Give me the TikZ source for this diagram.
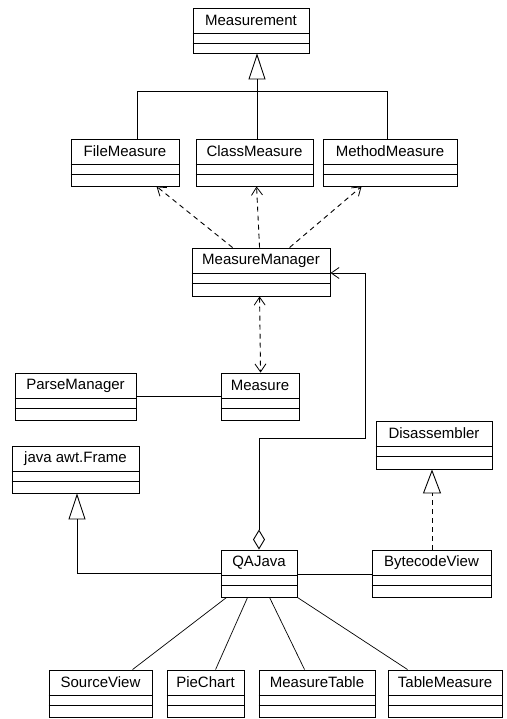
\documentclass[tikz,border=0pt]{standalone}
\usepackage{fontspec}
\setmainfont{Liberation Sans}
\usetikzlibrary{arrows.meta,calc,fit}
\begin{document}
\begin{tikzpicture}[x=1pt,y=-1pt,
  line width=0.9pt,
  classbox/.style={draw, inner sep=0pt, fill=white},
  classname/.style={font=\fontsize{15}{17}\selectfont, inner sep=0pt},
  gen/.style={-{Triangle[open,length=26pt,width=17pt,line width=0.9pt]}},
  real/.style={dashed, dash pattern=on 5pt off 4pt, -{Triangle[open,length=24pt,width=18pt,line width=0.9pt]}},
  dep/.style={dashed, dash pattern=on 5pt off 4pt, -{Straight Barb[length=8pt,width=11pt,line width=0.8pt]}},
  bidep/.style={dashed, dash pattern=on 5pt off 4pt, {Straight Barb[length=8pt,width=11pt,line width=0.8pt]}-{Straight Barb[length=8pt,width=11pt,line width=0.8pt]}},
  assoc/.style={line width=0.7pt},
  aggr/.style={{Diamond[open,length=20pt,width=12pt,line width=0.9pt]}-{Straight Barb[length=8pt,width=11pt,line width=0.8pt]}}
]
\newcommand\umlclass[6]{%
  \path (#3,#4) coordinate (#1-nw) (#5,#6) coordinate (#1-se);
  \node[classbox, fit=(#1-nw)(#1-se)] (#1) {};
  \node[classname] (#1-t) at ($(#1.north)+(0,13)$) {#2};
  \draw ($(#1.north west)+(0,25.5)$) -- ($(#1.north east)+(0,25.5)$);
  \draw ($(#1.north west)+(0,35.5)$) -- ($(#1.north east)+(0,35.5)$);
}
\useasboundingbox (0,0) rectangle (506,719);
\fill[white] (0,0) rectangle (506,719);

\umlclass{measurement}{Measurement}{193}{8}{309}{53}
\umlclass{filem}{FileMeasure}{71}{139}{179}{186}
\umlclass{classm}{ClassMeasure}{196}{139}{313}{186}
\umlclass{methodm}{MethodMeasure}{323}{139}{457}{186}
\umlclass{mm}{MeasureManager}{192}{248}{330}{296}
\umlclass{parse}{ParseManager}{15}{373}{136}{420}
\umlclass{measure}{Measure}{221}{373}{299}{420}
\umlclass{disasm}{Disassembler}{376}{421}{492}{469}
\umlclass{frame}{java awt.Frame}{12}{446}{139}{493}
\umlclass{qajava}{QAJava}{221}{550}{297}{597}
\umlclass{bytecode}{BytecodeView}{372}{550}{491}{597}
\umlclass{source}{SourceView}{49}{670}{152}{717}
\umlclass{pie}{PieChart}{167}{670}{244}{717}
\umlclass{mtable}{MeasureTable}{259}{670}{375}{717}
\umlclass{tmeasure}{TableMeasure}{388}{670}{502}{717}

% generalization tree to Measurement
\coordinate (gx) at (257,0);
\coordinate (j1) at (137,91);
\coordinate (j3) at (387,91);
\draw (j1 |- filem.north) -- (j1) -- (j3) -- (j3 |- methodm.north);
\draw[gen] (gx |- classm.north) -- (gx |- measurement.south);

% dependencies from MeasureManager
\draw[dep] ($(mm.north west)+(41,0)$) -- ($(filem.south west)+(86,0)$);
\draw[dep] ($(mm.north west)+(68,0)$) -- ($(classm.south west)+(61,0)$);
\draw[dep] ($(mm.north west)+(98,0)$) -- ($(methodm.south west)+(39,0)$);
\draw[bidep] ($(mm.south west)+(68,0)$) -- ($(measure.north west)+(40,0)$);

% association ParseManager -- Measure
\draw[assoc] (parse.east |- 0,396) -- (measure.west |- 0,396);

% aggregation QAJava -> MeasureManager
\coordinate (ax) at (259,438);
\coordinate (bx) at (365,438);
\draw[aggr] (ax |- qajava.north) -- (ax) -- (bx) -- (bx |- 0,273) -- (mm.east |- 0,273);

% generalization QAJava -> java awt.Frame
\coordinate (fx) at (77,573);
\draw[gen] (qajava.west |- fx) -- (fx) -- (fx |- frame.south);

% association QAJava -- BytecodeView
\draw[assoc] (qajava.east |- 0,574) -- (bytecode.west |- 0,574);

% realization BytecodeView -> Disassembler
\coordinate (rx) at (432,0);
\draw[real] (rx |- bytecode.north) -- (rx |- disasm.south);

% associations to bottom classes
\draw[assoc] ($(qajava.south west)+(6,0)$) -- ($(source.north west)+(84,0)$);
\draw[assoc] ($(qajava.south west)+(27,0)$) -- ($(pie.north west)+(49,0)$);
\draw[assoc] ($(qajava.south west)+(49,0)$) -- ($(mtable.north west)+(46,0)$);
\draw[assoc] (qajava.south east) -- ($(tmeasure.north west)+(20,0)$);
\end{tikzpicture}
\end{document}
